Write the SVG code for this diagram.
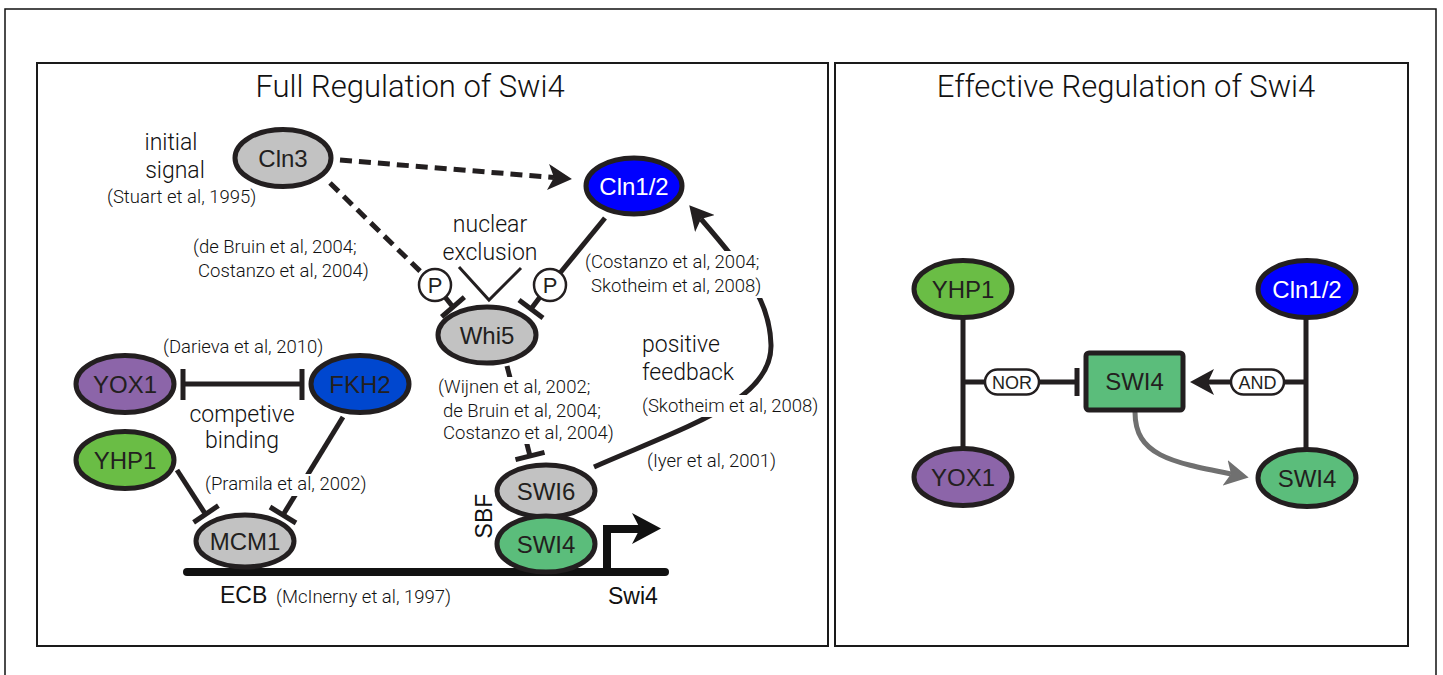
<svg xmlns="http://www.w3.org/2000/svg" width="1443" height="675" viewBox="0 0 1443 675">
<defs>
<style>
.frame{fill:none;stroke:#1a1a1a;stroke-width:2}
.node{stroke:#231f20;stroke-width:5}
.gray{fill:#c2c2c2}
.blue{fill:#0000ff}
.fkh{fill:#0047cf}
.purple{fill:#8c65a9}
.lgreen{fill:#6abd45}
.sgreen{fill:#5bbd7b}
.lbl{font-family:"Liberation Sans",Arial,sans-serif;font-size:24px;fill:#231f20;text-anchor:middle}
.wlbl{fill:#ffffff}
.title{font-family:Roboto,"Liberation Sans",sans-serif;font-weight:300;font-size:31px;fill:#111;text-anchor:middle}
.big{font-family:Roboto,"Liberation Sans",sans-serif;font-weight:300;font-size:23px;fill:#111}
.cite{font-family:Roboto,"Liberation Sans",sans-serif;font-weight:300;font-size:18.5px;fill:#111}
.mid{text-anchor:middle}
.ln{fill:none;stroke:#231f20;stroke-width:5}
.dash{stroke-dasharray:12 7}
.thin{fill:none;stroke:#231f20;stroke-width:3}
.pcirc{fill:#fff;stroke:#231f20;stroke-width:2.5}
.pill{fill:#fff;stroke:#231f20;stroke-width:2.5}
.ptxt{font-family:"Liberation Sans",Arial,sans-serif;font-size:22px;fill:#231f20;text-anchor:middle}
.pilltxt{font-family:"Liberation Sans",Arial,sans-serif;font-size:18px;fill:#231f20;text-anchor:middle}
.mask{fill:#fff}
.std{font-family:"Liberation Sans",Arial,sans-serif;font-size:23px;fill:#111}
</style>
<marker id="ah" viewBox="0 0 24 26" refX="6" refY="13" markerWidth="24" markerHeight="26" markerUnits="userSpaceOnUse" orient="auto">
<path d="M0,0 L24,13 L0,26 L6,13 Z" fill="#231f20"/>
</marker>
<marker id="ahg" viewBox="0 0 24 26" refX="6" refY="13" markerWidth="24" markerHeight="26" markerUnits="userSpaceOnUse" orient="auto">
<path d="M0,0 L24,13 L0,26 L6,13 Z" fill="#707070"/>
</marker>
</defs>
<rect width="1443" height="675" fill="#fff"/>
<path d="M5,675 L5,9 L1436,9 L1436,675" fill="none" stroke="#111" stroke-width="1.5"/>
<rect class="frame" x="37" y="63" width="791" height="583"/>
<rect class="frame" x="835" y="63" width="573" height="583"/>
<text class="title" x="410" y="97">Full Regulation of Swi4</text>
<text class="title" x="1126" y="97">Effective Regulation of Swi4</text>

<g id="connectors">
<path class="ln dash" d="M340,160 L554,177.5" marker-end="url(#ah)"/>
<path class="ln dash" d="M330,183 L422,273"/>
<path class="ln" d="M605,218 L560,273"/>
<path class="ln" d="M445,297 L453,307"/>
<path class="ln" d="M441.6,316.8 L464.4,297.2"/>
<path class="ln" d="M540,297 L531,309"/>
<path class="ln" d="M519,300 L543,318"/>
<path class="thin" d="M459,267 L489,300 L521,268"/>
<path class="ln" d="M507,366 L530,456"/>
<path class="ln" d="M515.5,459.7 L544.5,452.3"/>
<path class="ln" d="M594,467 C690,425 772,400 771,345 C770,300 745,270 701,219" marker-end="url(#ah)"/>
<path class="ln" d="M183,384 L302,384 M183,369 L183,400 M302,369 L302,400"/>
<path class="ln" d="M343,417 L283,515"/>
<path class="ln" d="M270,507 L296,523"/>
<path class="ln" d="M177,470 L206,515"/>
<path class="ln" d="M193.6,522.4 L218.4,505.6"/>
<path class="ln" d="M963,318 L963,448 M963,382 L985,382 M1039,382 L1077,382"/>
<path class="ln" d="M1077,368 L1077,396"/>
<path class="ln" d="M1306,318 L1306,450 M1306,382 L1284,382"/>
<path class="ln" d="M1231,382 L1208,382" marker-end="url(#ah)"/>
<path d="M1135,412 C1135,455 1170,462 1231,474" fill="none" stroke="#707070" stroke-width="5" marker-end="url(#ahg)"/>
</g>

<rect class="mask" x="583" y="251" width="188" height="47"/>
<rect class="mask" x="640" y="395" width="186" height="22"/>
<rect class="mask" x="436" y="377" width="186" height="67"/>
<rect class="mask" x="203" y="474" width="168" height="22"/>

<g id="Cln3"><ellipse class="node gray" cx="283" cy="158" rx="48" ry="28.5"/><text class="lbl" x="283" y="167">Cln3</text></g>
<g id="Cln12"><ellipse class="node blue" cx="634" cy="186" rx="48" ry="28"/><text class="lbl wlbl" x="634" y="195">Cln1/2</text></g>
<g id="P1"><circle class="pcirc" cx="435" cy="285" r="16"/><text class="ptxt" x="435" y="293">P</text></g>
<g id="P2"><circle class="pcirc" cx="550" cy="285" r="16"/><text class="ptxt" x="550" y="293">P</text></g>
<g id="Whi5"><ellipse class="node gray" cx="487" cy="335" rx="49" ry="28"/><text class="lbl" x="487" y="344">Whi5</text></g>
<g id="YOX1"><ellipse class="node purple" cx="125" cy="384" rx="49" ry="28.5"/><text class="lbl" x="125" y="393">YOX1</text></g>
<g id="FKH2"><ellipse class="node fkh" cx="360" cy="384" rx="49" ry="28.5"/><text class="lbl" x="360" y="393">FKH2</text></g>
<g id="YHP1"><ellipse class="node lgreen" cx="125" cy="460" rx="49" ry="28.5"/><text class="lbl" x="125" y="469">YHP1</text></g>
<g id="DNA">
<path d="M187,572 L665,572" stroke="#111" stroke-width="8" stroke-linecap="round" fill="none"/>
<path d="M607,574 L607,529 L641,529" stroke="#111" stroke-width="8" fill="none"/>
<polygon points="632,513 661,528.5 632,544 640,528.5" fill="#111"/>
</g>
<g id="MCM1"><ellipse class="node gray" cx="245" cy="541" rx="49" ry="26"/><text class="lbl" x="245" y="550">MCM1</text></g>
<g id="SWI6"><ellipse class="node gray" cx="546" cy="491" rx="49" ry="26"/><text class="lbl" x="546" y="500">SWI6</text></g>
<g id="SWI4"><ellipse class="node sgreen" cx="546" cy="544" rx="49" ry="28"/><text class="lbl" x="546" y="553">SWI4</text></g>
<text class="std" x="492" y="516" text-anchor="middle" transform="rotate(-90 492 516)">SBF</text>
<text class="std" x="220" y="603">ECB</text>
<text class="std" x="608" y="604">Swi4</text>

<g id="labels">
<text class="big mid" x="171" y="150">initial</text>
<text class="big mid" x="175" y="178">signal</text>
<text class="cite" x="107" y="203">(Stuart et al, 1995)</text>
<text class="cite" x="193" y="253">(de Bruin et al, 2004;</text>
<text class="cite" x="198" y="277">Costanzo et al, 2004)</text>
<text class="big mid" x="490" y="232">nuclear</text>
<text class="big mid" x="490" y="260">exclusion</text>
<text class="cite" x="585" y="268">(Costanzo et al, 2004;</text>
<text class="cite" x="591" y="292">Skotheim et al, 2008)</text>
<text class="cite" x="163" y="353">(Darieva et al, 2010)</text>
<text class="big mid" x="242" y="422">competive</text>
<text class="big mid" x="242" y="448">binding</text>
<text class="cite" x="205" y="490">(Pramila et al, 2002)</text>
<text class="cite" x="438" y="393">(Wijnen et al, 2002;</text>
<text class="cite" x="443" y="417">de Bruin et al, 2004;</text>
<text class="cite" x="443" y="439">Costanzo et al, 2004)</text>
<text class="big" x="642" y="352">positive</text>
<text class="big" x="642" y="380">feedback</text>
<text class="cite" x="642" y="412">(Skotheim et al, 2008)</text>
<text class="cite" x="647" y="467">(Iyer et al, 2001)</text>
<text class="cite" x="276" y="603">(McInerny et al, 1997)</text>
</g>

<g id="R_YHP1"><ellipse class="node lgreen" cx="963" cy="289" rx="49" ry="28.5"/><text class="lbl" x="963" y="298">YHP1</text></g>
<g id="R_Cln12"><ellipse class="node blue" cx="1307" cy="289" rx="49" ry="28.5"/><text class="lbl wlbl" x="1307" y="298">Cln1/2</text></g>
<g id="R_YOX1"><ellipse class="node purple" cx="963" cy="477" rx="49" ry="28.5"/><text class="lbl" x="963" y="486">YOX1</text></g>
<g id="R_SWI4e"><ellipse class="node sgreen" cx="1307" cy="478" rx="49" ry="28.5"/><text class="lbl" x="1307" y="487">SWI4</text></g>
<g id="R_SWI4box"><rect class="node sgreen" x="1086" y="353" width="97" height="57" rx="3"/><text class="lbl" x="1134.5" y="390">SWI4</text></g>
<g id="NOR"><rect class="pill" x="985" y="369.5" width="54" height="25" rx="12.5"/><text class="pilltxt" x="1012" y="388.5">NOR</text></g>
<g id="AND"><rect class="pill" x="1231" y="369.5" width="53" height="25" rx="12.5"/><text class="pilltxt" x="1257.5" y="388.5">AND</text></g>
</svg>
